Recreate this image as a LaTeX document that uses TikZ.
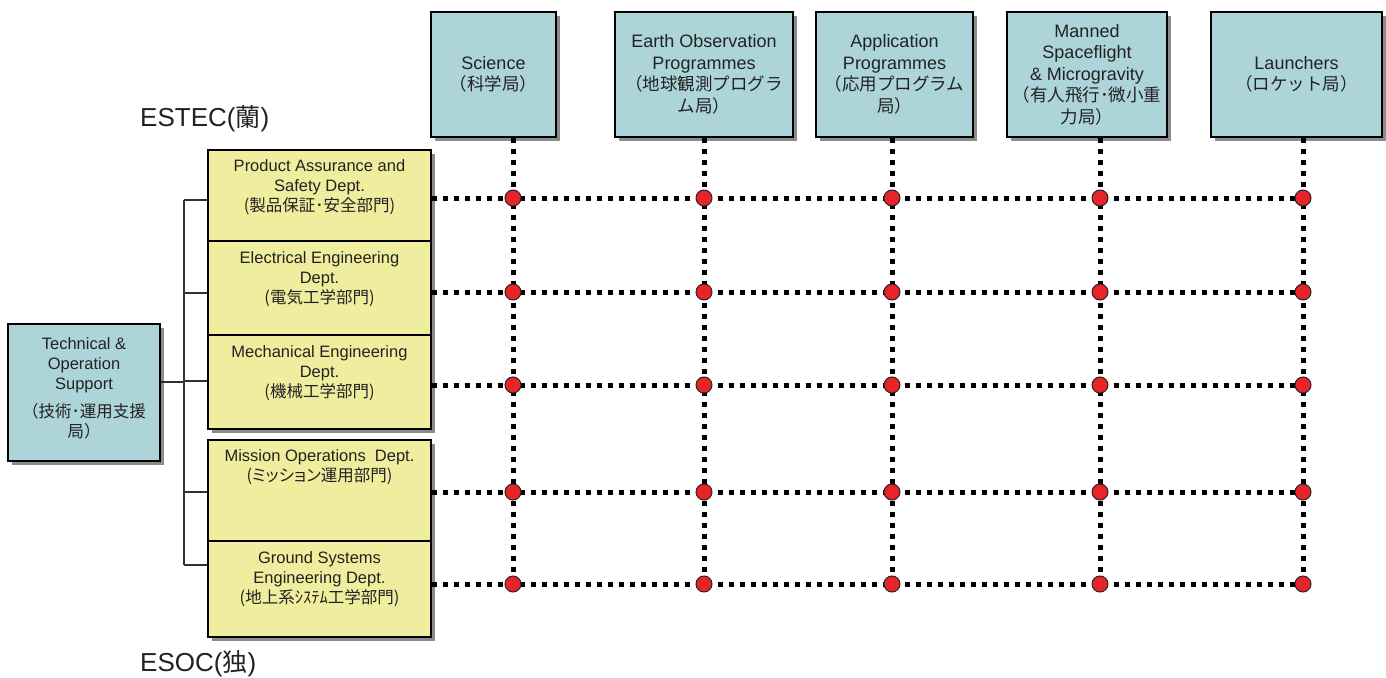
\documentclass[tikz,border=0pt]{standalone}
\usepackage{fontspec}
\setmainfont{Liberation Sans}
\newfontfamily\jpfont{Noto Sans CJK JP}
\newfontfamily\jppropfont[RawFeature=+palt]{Noto Sans CJK JP}
\newcommand{\jpbig}[1]{{\jpfont\fontsize{17.5}{21.5}\selectfont #1}}
\newcommand{\jpsmall}[1]{{\jpfont\fontsize{16.5}{20}\selectfont #1}}
\newcommand{\jpprop}[1]{{\jppropfont\fontsize{16.5}{20}\selectfont #1}}
\usetikzlibrary{shadows}
\definecolor{divblue}{HTML}{ADD5D9}
\definecolor{deptyellow}{HTML}{F0EE9E}
\definecolor{dotred}{HTML}{E8232A}
\definecolor{inkgray}{HTML}{222222}
\begin{document}
\begin{tikzpicture}[x=1pt,y=-1pt,
  boxshadow/.style={drop shadow={shadow xshift=4pt,shadow yshift=-4pt,fill=black!45,opacity=1}},
  division/.style={draw=black,line width=1.4pt,fill=divblue,boxshadow,inner sep=0pt,
    align=center,text=inkgray,font=\fontsize{18}{21.5}\selectfont},
  dept/.style={draw=black,line width=1.4pt,fill=deptyellow,boxshadow,inner sep=0pt,
    minimum width=223pt},
  depttext/.style={anchor=north,inner sep=0pt,align=center,text=inkgray,
    font=\fontsize{16.5}{20}\selectfont},
  support/.style={draw=black,line width=1.4pt,fill=divblue,boxshadow,inner sep=0pt},
  supporttext/.style={inner sep=0pt,align=center,text=inkgray,font=\fontsize{16.5}{20}\selectfont},
  matrixline/.style={line width=5pt,dash pattern=on 5pt off 6pt,black},
  bracket/.style={line width=1.4pt,black!80},
  crossing/.style={circle,draw=black!85,line width=1pt,fill=dotred,minimum size=16pt,inner sep=0pt},
  site/.style={inner sep=0pt,anchor=west,text=inkgray,font=\fontsize{26}{28}\selectfont}]
\useasboundingbox (0,0) rectangle (1386,677);

% programme directorates
\node[division,minimum width=125pt,minimum height=125pt] (sci) at (493.5,74.5)
  {Science\\\jpbig{（科学局）}};
\node[division,minimum width=178pt,minimum height=125pt] (eo) at (704,74.5)
  {Earth Observation\\Programmes\\\jpbig{（地球観測プログラ}\\\jpbig{ム局）}};
\node[division,minimum width=157pt,minimum height=125pt] (app) at (894.5,74.5)
  {Application\\Programmes\\\jpbig{（応用プログラム}\\\jpbig{局）}};
\node[division,minimum width=160pt,minimum height=125pt] (msf) at (1087,74.5)
  {Manned\\Spaceflight\\\& Microgravity\\\jpbig{（有人飛行･微小重}\\\jpbig{力局）}};
\node[division,minimum width=171pt,minimum height=125pt] (lau) at (1296.5,74.5)
  {Launchers\\\jpbig{（ロケット局）}};

% site labels
\node[site] (estec) at (140,119) {ESTEC(\jpbig{\fontsize{25}{28}\selectfont 蘭})};
\node[site] (esoc) at (140,664) {ESOC(\jpbig{\fontsize{25}{28}\selectfont 独})};

% technical departments
\node[dept,minimum height=91pt] (pa) at (319.5,195.5) {};
\node[dept,minimum height=94pt] (ee) at (319.5,288) {};
\node[dept,minimum height=94pt] (me) at (319.5,382) {};
\node[dept,minimum height=101pt] (mo) at (319.5,490.5) {};
\node[dept,minimum height=96pt] (gs) at (319.5,589) {};

\node[depttext] (pa-t) at ([yshift=-10pt]pa.north)
  {Product Assurance and\\Safety Dept.\\\jpsmall{(製品保証･安全部門)}};
\node[depttext] (ee-t) at ([yshift=-11pt]ee.north)
  {Electrical Engineering\\Dept.\\\jpsmall{(電気工学部門)}};
\node[depttext] (me-t) at ([yshift=-11pt]me.north)
  {Mechanical Engineering\\Dept.\\\jpsmall{(機械工学部門)}};
\node[depttext] (mo-t) at ([yshift=-10pt]mo.north)
  {Mission Operations\ \ Dept.\\\jpprop{(ミッション運用部門)}};
\node[depttext] (gs-t) at ([yshift=-11pt]gs.north)
  {Ground Systems\\Engineering Dept.\\\jpsmall{(地上系ｼｽﾃﾑ工学部門)}};

% technical & operation support directorate
\node[support,minimum width=152pt,minimum height=137pt] (tos) at (84,392.5) {};
\node[supporttext] (tos-t) at ([yshift=4pt]tos.center)
  {Technical \&\\Operation\\Support\\[8pt]\jpsmall{（技術･運用支援}\\\jpsmall{局）}};

% bracket from the support directorate to the departments
\coordinate (bus-top) at (184,200);
\coordinate (bus-bot) at (184,565);
\draw[bracket] (bus-top) -- (bus-bot);
\draw[bracket] (tos.east |- 0,382) -- (184,382);
\draw[bracket] (bus-top) -- (pa.west |- bus-top);
\draw[bracket] (184,293) -- (ee.west |- 0,293);
\draw[bracket] (184,381) -- (me.west |- 0,381);
\draw[bracket] (184,492) -- (mo.west |- 0,492);
\draw[bracket] (bus-bot) -- (gs.west |- bus-bot);

% matrix grid
\coordinate (c1) at (513,0);
\coordinate (c2) at (704,0);
\coordinate (c3) at (892,0);
\coordinate (c4) at (1100,0);
\coordinate (c5) at (1303,0);
\coordinate (r1) at (0,198);
\coordinate (r2) at (0,292);
\coordinate (r3) at (0,385);
\coordinate (r4) at (0,492);
\coordinate (r5) at (0,584);

\draw[matrixline] (c1 |- sci.south) -- (c1 |- r5);
\draw[matrixline] (c2 |- eo.south) -- (c2 |- r5);
\draw[matrixline] (c3 |- app.south) -- (c3 |- r5);
\draw[matrixline] (c4 |- msf.south) -- (c4 |- r5);
\draw[matrixline] (c5 |- lau.south) -- (c5 |- r5);

\draw[matrixline] (pa.east |- r1) -- (c5 |- r1);
\draw[matrixline] (ee.east |- r2) -- (c5 |- r2);
\draw[matrixline] (me.east |- r3) -- (c5 |- r3);
\draw[matrixline] (mo.east |- r4) -- (c5 |- r4);
\draw[matrixline] (gs.east |- r5) -- (c5 |- r5);

\foreach \c in {1,...,5}
  \foreach \r in {1,...,5}
    \node[crossing] (x-\c-\r) at (c\c |- r\r) {};
\end{tikzpicture}
\end{document}
